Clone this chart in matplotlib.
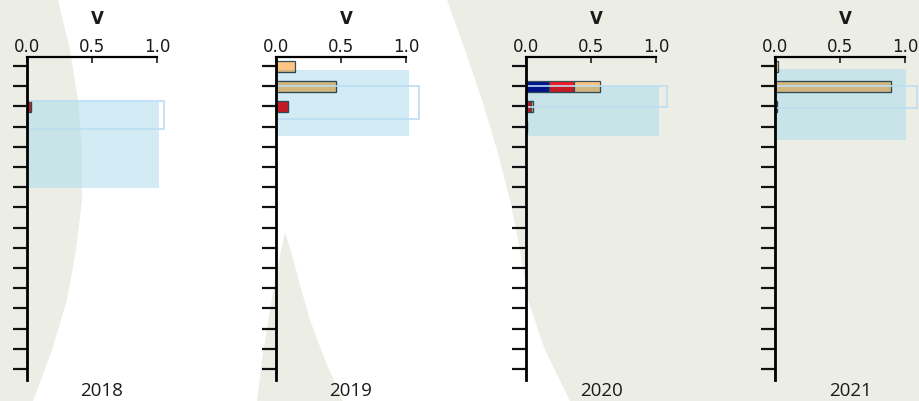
import numpy as np
import matplotlib
matplotlib.use("Agg")
import matplotlib.pyplot as plt
from matplotlib.patches import Polygon, Rectangle
from matplotlib import transforms

# ---- data -------------------------------------------------------------
years = ["2018", "2019", "2020", "2021"]
n_rows = 16
x_ticks = [0.0, 0.5, 1.0]
x_tick_labels = ["0.0", "0.5", "1.0"]
axis_title = "V"

# stacked segments per year, first four rows (remaining rows are empty)
navy_vals = [
    [0.0, 0.0, 0.0, 0.0],
    [0.0, 0.0, 0.0, 0.0],
    [0.0, 0.177, 0.0, 0.01],
    [0.0, 0.0, 0.0, 0.0],
]
red_vals = [
    [0.0, 0.0, 0.03, 0.0],
    [0.0, 0.0, 0.09, 0.0],
    [0.0, 0.19, 0.035, 0.0],
    [0.0, 0.0, 0.0, 0.0],
]
orange_vals = [
    [0.0, 0.0, 0.0, 0.0],
    [0.145, 0.46, 0.0, 0.0],
    [0.0, 0.20, 0.02, 0.0],
    [0.025, 0.89, 0.012, 0.0],
]

# highlighted ranges per year: (x extent, first row edge, last row edge)
shade_spans = [(1.015, 1.73, 6.05), (1.02, 0.2, 3.45), (1.02, 0.99, 3.45), (1.008, 0.15, 3.66)]
frame_spans = [(1.055, 1.73, 3.13), (1.103, 0.99, 2.6), (1.082, 0.99, 2.01), (1.09, 0.99, 2.1)]

# ---- style ------------------------------------------------------------
W, H = 920, 401
seg_colors = ["#00148C", "#EE1C25", "#FFC382"]
edge_col = "#35505A"
shade_rgb = np.array([210, 236, 245]) / 255.0
shade_col = (173 / 255, 220 / 255, 237 / 255)
frame_col = "#BCDDF2"
bg_grey = "#ECEEE6"
text_col = "#1A1A1A"

fig = plt.figure(figsize=(W / 100, H / 100), dpi=100, facecolor="white")


def px(points):
    return [(x / W, 1 - y / H) for x, y in points]


# soft backdrop shapes
backdrop = [
    [(0, 0), (58, 0), (70, 50), (78, 100), (82, 150), (82, 200), (76, 250),
     (67, 300), (52, 350), (33, 401), (0, 401)],
    [(257, 401), (262, 360), (270, 310), (278, 265), (285, 232), (292, 255),
     (300, 285), (310, 320), (325, 360), (343, 401)],
    [(447, 0), (465, 50), (482, 100), (497, 150), (510, 200), (520, 250),
     (528, 300), (545, 350), (570, 401), (920, 401), (920, 0)],
]
for pts in backdrop:
    fig.add_artist(Polygon(px(pts), closed=True, transform=fig.transFigure,
                           facecolor=bg_grey, edgecolor="none", zorder=-5))

lefts = [27, 276, 526, 775]
ax_w = 130
ax_top, ax_bot = 57, 380
bar_h = 0.55
rows = np.arange(n_rows)

for i, year in enumerate(years):
    ax = fig.add_axes([lefts[i] / W, (H - ax_bot) / H, ax_w / W, (ax_bot - ax_top) / H])
    ax.patch.set_visible(False)
    ax.set_xlim(0, 1)
    ax.set_ylim(n_rows - 0.45, -0.45)

    series = [navy_vals[i], red_vals[i], orange_vals[i]]
    padded = [np.pad(np.asarray(s, float), (0, n_rows - len(s))) for s in series]

    # highlight box
    sx, sr0, sr1 = shade_spans[i]
    shade = Rectangle((0, sr0), sx, sr1 - sr0, facecolor=shade_col, alpha=0.55,
                      edgecolor="none", zorder=3, clip_on=False)
    ax.add_patch(shade)

    left = np.zeros(n_rows)
    for vals, col in zip(padded, seg_colors):
        mask = vals > 0
        if mask.any():
            ax.barh(rows[mask], vals[mask], left=left[mask], height=bar_h,
                    color=col, edgecolor=edge_col, linewidth=0.9, zorder=2)
            # the part of each bar lying under the highlight is tinted by it
            base = np.array(matplotlib.colors.to_rgb(col))
            edge = np.array(matplotlib.colors.to_rgb(edge_col))
            tinted = ax.barh(rows[mask], vals[mask], left=left[mask], height=bar_h,
                             color=tuple(base * shade_rgb),
                             edgecolor=tuple(edge * shade_rgb),
                             linewidth=0.9, zorder=4)
            for p in tinted.patches:
                p.set_clip_path(shade)
        left = left + vals

    fx, fr0, fr1 = frame_spans[i]
    ax.add_patch(Rectangle((0, fr0), fx, fr1 - fr0, facecolor="none",
                           edgecolor=frame_col, linewidth=1.2, zorder=5, clip_on=False))

    # axes styling
    ax.spines["right"].set_visible(False)
    ax.spines["bottom"].set_visible(False)
    ax.spines["left"].set_linewidth(2.0)
    ax.spines["top"].set_linewidth(1.6)
    ax.spines["left"].set_zorder(6)
    ax.spines["top"].set_zorder(6)
    ax.xaxis.tick_top()
    ax.set_xticks(x_ticks)
    ax.set_xticklabels(x_tick_labels)
    ax.tick_params(axis="x", direction="in", length=4, width=1.2, pad=0.5,
                   labelsize=12, colors=text_col)
    ax.set_yticks(rows)
    ax.set_yticklabels([])
    ax.tick_params(axis="y", direction="out", length=10, width=1.6, color="#111111")

    tr = transforms.blended_transform_factory(ax.transAxes, fig.transFigure)
    ax.text(0.54, 1 - 19 / H, axis_title, transform=tr, ha="center", va="center",
            fontsize=12, fontweight="bold", color=text_col, family="DejaVu Sans")
    ax.text(0.577, 0.5 / H, year, transform=tr, ha="center", va="bottom",
            fontsize=13.5, color=text_col, family="Open Sans")

fig.savefig("out.png", dpi=100, facecolor="white")
